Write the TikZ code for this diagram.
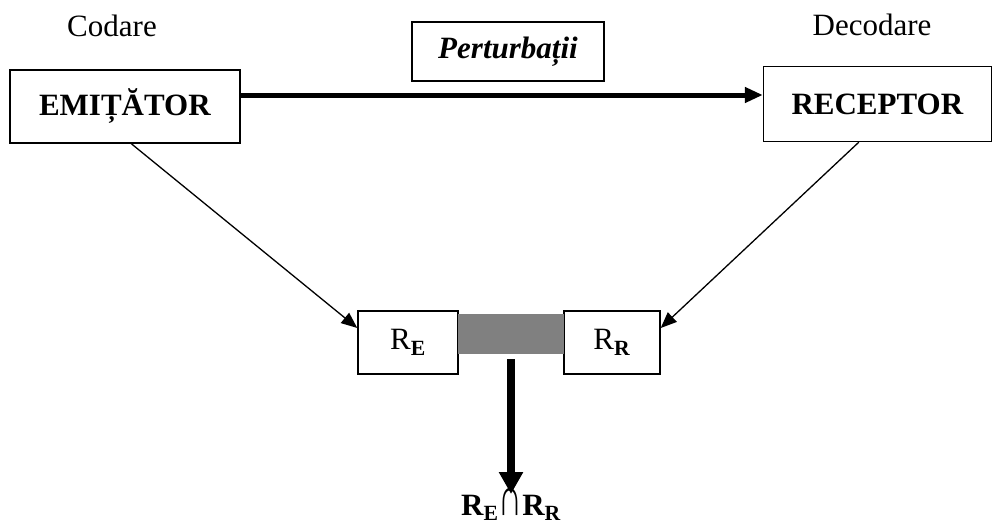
\documentclass[tikz,border=0pt]{standalone}
\usepackage{fontspec}
\usepackage{graphicx}
\setmainfont{Liberation Serif}
\usetikzlibrary{arrows.meta}
\tikzset{
  box/.style={draw, line width=1.4pt, inner sep=0pt, font=\fontsize{31}{36}\selectfont},
  thin/.style={line width=1.3pt, -{Triangle[length=16pt,width=13pt]}},
  txt/.style={inner sep=0pt, anchor=base, font=\fontsize{31}{36}\selectfont}
}
\begin{document}
\begin{tikzpicture}[x=1pt,y=-1pt]
\useasboundingbox (0,0) rectangle (993,527);
\node[txt] (cod) at (112,37) {Codare};
\node[txt] (dec) at (872,36) {Decodare};
\node[box, minimum width=230pt, minimum height=73pt] (emit) at (125,106.5) {\textbf{EMIȚĂTOR}};
\node[box, minimum width=192pt, minimum height=59pt] (pert) at (508,51.5) {\textbf{\textit{Perturbații}}};
\node[box, minimum width=228pt, minimum height=75pt] (rec) at (877.5,104) {\textbf{RECEPTOR}};
\node[box, minimum width=100pt, minimum height=63pt] (re) at (408,342.5) {R\textsubscript{\textbf{E}}};
\node[box, minimum width=96pt, minimum height=63pt] (rr) at (612,342.5) {R\textsubscript{\textbf{R}}};
\node[fill={rgb,255:red,128;green,128;blue,128}, inner sep=0pt, minimum width=106pt, minimum height=40pt] (gray) at (511,334) {};
\node[txt, anchor=base, font=\fontsize{31}{36}\selectfont\bfseries] (res) at (511,515) {R\textsubscript{E}{\mdseries\fontsize{30}{34}\selectfont\scalebox{1.1}[1.8]{∩}}R\textsubscript{R}};
\coordinate (dtop) at (511,359);
\coordinate (dend) at (511,494);
\draw[line width=5pt, -{Triangle[length=18pt,width=15pt]}] (emit.east |- 0,95) -- (rec.west |- 0,95);
\draw[thin] (emit.south west) ++(122pt,0) -- (re.west |- 0,328);
\draw[thin] (rec.south west) ++(96pt,0) -- (rr.east |- 0,328);
\draw[line width=7.5pt, -{Triangle[length=22pt,width=23pt]}] (dtop) -- (dend);
\end{tikzpicture}
\end{document}
